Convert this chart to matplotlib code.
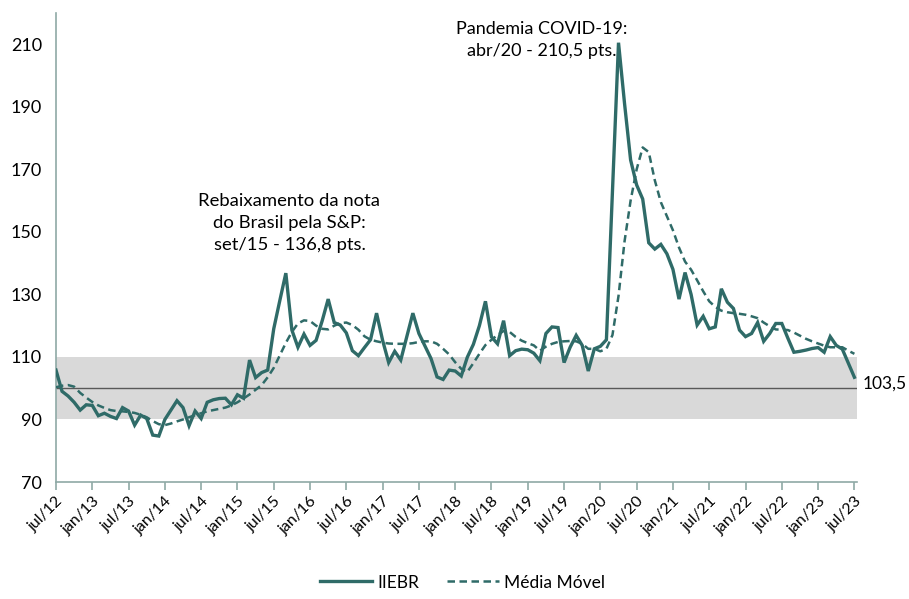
import numpy as np
import matplotlib

matplotlib.use("Agg")
import matplotlib.pyplot as plt
from matplotlib import rcParams

rcParams.update({
    "font.family": ["Lato", "DejaVu Sans"],
    "font.size": 11,
})

TEAL = "#2F6B68"
BAND = "#D9D9D9"
AXIS = "#8FA9A6"

# IIE-Br, monthly from jul/12 to jul/23
iiebr = [
    105.8, 99.0, 97.5, 95.5, 93.0, 94.7, 94.5, 91.2, 92.0, 91.0, 90.3, 93.8,
    92.7, 88.2, 91.4, 90.3, 85.0, 84.7, 90.0, 93.0, 96.0, 93.8, 88.0, 92.7,
    90.3, 95.5, 96.3, 96.7, 96.8, 94.7, 97.9, 96.8, 109.0, 103.4, 105.0, 105.8,
    119.0, 128.0, 136.8, 118.6, 113.1, 117.3, 113.7, 115.3, 121.5, 128.5, 121.0, 120.2,
    117.7, 112.0, 110.4, 113.0, 115.5, 124.0, 115.3, 108.2, 111.8, 109.0, 116.5, 124.0,
    117.5, 113.5, 109.5, 103.6, 102.8, 105.8, 105.5, 103.9, 109.9, 114.0, 120.0, 127.8,
    116.4, 114.2, 121.6, 110.4, 112.0, 112.5, 112.3, 111.2, 108.8, 117.5, 119.6, 119.4,
    108.2, 113.1, 116.9, 113.7, 105.5, 112.6, 113.4, 115.5, 163.0, 210.5, 191.0, 173.0,
    165.0, 160.5, 146.5, 144.5, 146.0, 143.0, 138.0, 128.5, 137.0, 130.0, 120.2, 123.0,
    119.0, 119.6, 131.8, 127.5, 125.5, 118.6, 116.5, 117.5, 121.0, 115.0, 117.5, 120.7,
    120.7, 116.0, 111.5, 111.8, 112.2, 112.7, 113.0, 111.5, 116.5, 113.7, 112.5, 108.0,
    103.5,
]

media_movel = [
    100.3, 100.8, 101.0, 100.5, 98.5, 97.0, 95.6, 94.5, 93.7, 93.0, 92.7, 92.6,
    92.4, 92.1, 91.5, 90.7, 89.5, 88.5, 88.2, 88.7, 89.4, 90.0, 90.7, 91.4,
    92.0, 92.6, 93.0, 93.4, 93.8, 94.5, 95.5, 96.7, 98.0, 99.5, 101.0, 103.5,
    106.5, 110.5, 114.5, 118.0, 120.7, 121.7, 121.5, 120.0, 119.0, 118.8, 120.0, 120.8,
    121.0, 120.2, 118.7, 116.6, 115.5, 115.0, 114.6, 114.3, 114.2, 114.2, 114.2, 114.4,
    114.8, 115.0, 115.0, 114.2, 112.6, 110.8, 108.3, 106.2, 105.2, 108.0, 111.0, 113.8,
    115.5, 117.0, 118.3, 118.0, 116.4, 115.2, 114.4, 113.7, 112.0, 113.3, 114.2, 114.8,
    115.0, 115.1, 115.0, 114.2, 112.6, 112.6, 111.8, 112.6, 117.0, 129.5, 147.0, 160.0,
    170.0, 177.0, 175.5, 166.5, 159.5, 155.0, 150.5, 145.0, 140.5, 137.9, 134.5, 131.0,
    127.8, 126.0, 124.8, 124.3, 124.0, 123.8, 123.5, 123.0, 122.4, 121.0, 119.8, 118.8,
    118.7, 118.6, 117.8, 116.8, 115.8, 115.0, 114.3, 113.6, 113.1, 113.1, 113.1, 112.0,
    111.0,
]

tick_labels = ["jul/12", "jan/13", "jul/13", "jan/14", "jul/14", "jan/15", "jul/15",
               "jan/16", "jul/16", "jan/17", "jul/17", "jan/18", "jul/18", "jan/19",
               "jul/19", "jan/20", "jul/20", "jan/21", "jul/21", "jan/22", "jul/22",
               "jan/23", "jul/23"]

x = np.arange(len(iiebr))

fig = plt.figure(figsize=(9.09, 5.99), dpi=100)
ax = fig.add_axes([0.0616, 0.1953, 0.881, 0.783])

ax.axhspan(90, 110, color=BAND, zorder=0, lw=0)
ax.axhline(100, color="#595959", lw=1.0, zorder=1)

ax.plot(x, media_movel, "--", color=TEAL, lw=1.8, dashes=(3.0, 1.8), zorder=3,
        label="Média Móvel")
ax.plot(x, iiebr, "-", color=TEAL, lw=2.4, zorder=4, solid_joinstyle="miter",
        label="IIEBR")

ax.set_xlim(0, 132.4)
ax.set_ylim(70, 220)
ax.set_yticks(np.arange(70, 211, 20))
ax.set_xticks(np.arange(0, 133, 6))
ax.set_xticklabels(tick_labels, rotation=45, ha="right", rotation_mode="anchor")

for s in ("top", "right"):
    ax.spines[s].set_visible(False)
ax.spines["left"].set_color(AXIS)
ax.spines["bottom"].set_color(AXIS)
ax.spines["left"].set_linewidth(1.2)
ax.spines["bottom"].set_linewidth(1.2)
ax.tick_params(axis="y", length=0, pad=10, labelsize=13)
ax.tick_params(axis="x", length=6, width=1.2, color=AXIS, pad=3, labelsize=11.5)

ax.text(38.6, 152.9, "Rebaixamento da nota\ndo Brasil pela S&P:\nset/15 - 136,8 pts.",
        ha="center", va="center", fontsize=13.3, linespacing=1.45)
ax.text(80.3, 211.3, "Pandemia COVID-19:\nabr/20 - 210,5 pts.",
        ha="center", va="center", fontsize=13.0, linespacing=1.45)
ax.text(133.4, 101.6, "103,5", ha="left", va="center", fontsize=12.5)

handles, labels = ax.get_legend_handles_labels()
fig.legend(handles[::-1], labels[::-1], loc="lower center", ncol=2,
           bbox_to_anchor=(0.509, -0.012), frameon=False, handlelength=3.0,
           handletextpad=0.3, columnspacing=1.6, fontsize=12.5)

fig.savefig("out.png", dpi=100)
